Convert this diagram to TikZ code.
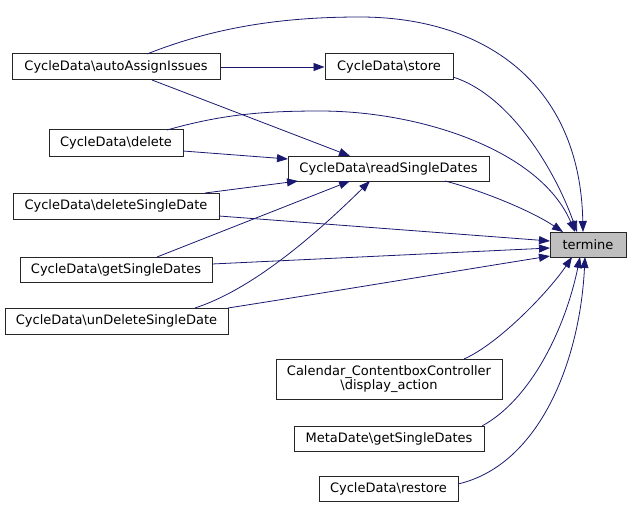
\documentclass[tikz,border=0pt]{standalone}
\usepackage{fontspec}
\setmainfont{DejaVu Sans}
\usetikzlibrary{calc,arrows.meta}
\definecolor{edgeblue}{HTML}{191970}
\definecolor{hlgray}{HTML}{BFBFBF}
\begin{document}
\begin{tikzpicture}[x=1pt,y=-1pt,
  fn/.style={draw=black!85,line width=1pt,inner sep=0pt,align=center,font=\fontsize{13}{14}\selectfont},
  call/.style={draw=edgeblue,line width=0.8pt,-{Triangle[length=11pt,width=8pt]}}]
\useasboundingbox (0,0) rectangle (629,508);
\node[fn,minimum width=208pt,minimum height=26pt] (auto) at (116,67) {CycleData\textbackslash autoAssignIssues};
\node[fn,minimum width=128pt,minimum height=26pt] (store) at (389,67) {CycleData\textbackslash store};
\node[fn,minimum width=134pt,minimum height=26pt] (del) at (116,143) {CycleData\textbackslash delete};
\node[fn,minimum width=201pt,minimum height=25pt] (read) at (388.5,168.5) {CycleData\textbackslash readSingleDates};
\node[fn,minimum width=206pt,minimum height=26pt] (dels) at (116,206) {CycleData\textbackslash deleteSingleDate};
\node[fn,minimum width=192pt,minimum height=25pt] (gets) at (116,269.5) {CycleData\textbackslash getSingleDates};
\node[fn,minimum width=223pt,minimum height=26pt] (undel) at (116.5,321) {CycleData\textbackslash unDeleteSingleDate};
\node[fn,fill=hlgray,minimum width=76pt,minimum height=25pt] (term) at (588,244.5) {termine};
\node[fn,minimum width=226pt,minimum height=40pt] (cal) at (389,379) {Calendar\_ContentboxController\\\textbackslash display\_action};
\node[fn,minimum width=190pt,minimum height=25pt] (meta) at (389,438.5) {MetaDate\textbackslash getSingleDates};
\node[fn,minimum width=139pt,minimum height=25pt] (rest) at (388.5,488.5) {CycleData\textbackslash restore};

% straight calls
\draw[call] (auto.east) -- (store.west);
\draw[call] ($(auto)+(36,13)$) -- ($(read)+(-38.5,-12.5)$);
\draw[call] ($(del)+(67,8)$) -- ($(read)+(-100.5,-9.5)$);
\draw[call] ($(dels)+(89,-13)$) -- ($(read)+(-90.5,12.5)$);
\draw[call] ($(gets)+(41,-12.5)$) -- ($(read)+(-38.5,12.5)$);
\draw[call] ($(dels)+(103,10)$) -- ($(term)+(-38,-3.5)$);
\draw[call] ($(gets)+(96,-5.5)$) -- ($(term)+(-38,3.5)$);
\draw[call] ($(undel)+(111.5,-13)$) .. controls (330,292) and (450,272) .. ($(term)+(-38,11.5)$);
\draw[call] ($(undel)+(78.5,-13)$) .. controls (250,290) and (310,240) .. ($(read)+(-18.5,12.5)$);
% curved calls
\draw[call] ($(auto)+(31,-13)$) .. controls (220,25) and (290,17) .. (360,17) .. controls (480,17) and (580,80) .. ($(term)+(-5,-12.5)$);
\draw[call] ($(store)+(64,10)$) .. controls (510,95) and (555,170) .. ($(term)+(-11,-12.5)$);
\draw[call] ($(del)+(51,-13)$) .. controls (220,115) and (260,111) .. (320,111) .. controls (420,111) and (540,150) .. ($(term)+(-13,-12.5)$);
\draw[call] ($(read)+(56.5,12.5)$) .. controls (480,190) and (530,210) .. ($(term)+(-25,-12.5)$);
\draw[call] ($(cal)+(75,-20)$) .. controls (500,343) and (550,290) .. ($(term)+(-16,12.5)$);
\draw[call] ($(meta)+(93,-12.5)$) .. controls (530,400) and (565,330) .. ($(term)+(-8,12.5)$);
\draw[call] ($(rest)+(69.5,-4.5)$) .. controls (540,465) and (580,360) .. ($(term)+(-3,12.5)$);
\end{tikzpicture}
\end{document}
